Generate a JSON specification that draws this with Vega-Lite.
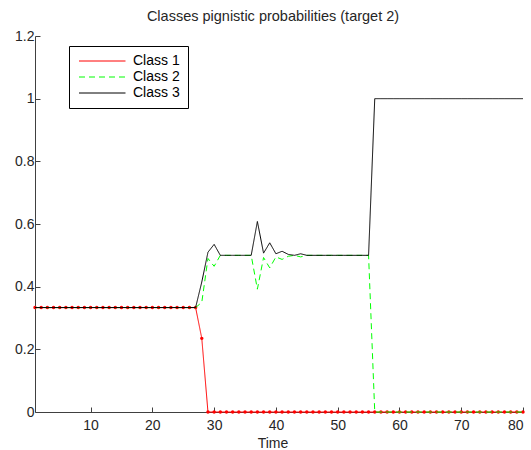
{
  "$schema": "https://vega.github.io/schema/vega-lite/v6.json",
  "width": 488,
  "height": 376,
  "autosize": {"type": "none"},
  "padding": {"left": 35, "top": 36, "right": 8, "bottom": 38},
  "title": {
    "text": "Classes pignistic probabilities (target 2)",
    "fontSize": 14.5,
    "fontWeight": "normal",
    "font": "Liberation Sans",
    "color": "#262626",
    "offset": 5,
    "dx": -6
  },
  "data": {
    "values": [
      {"t": 1, "Class 1": 0.3333, "Class 2": 0.3333, "Class 3": 0.3333},
      {"t": 2, "Class 1": 0.3333, "Class 2": 0.3333, "Class 3": 0.3333},
      {"t": 3, "Class 1": 0.3333, "Class 2": 0.3333, "Class 3": 0.3333},
      {"t": 4, "Class 1": 0.3333, "Class 2": 0.3333, "Class 3": 0.3333},
      {"t": 5, "Class 1": 0.3333, "Class 2": 0.3333, "Class 3": 0.3333},
      {"t": 6, "Class 1": 0.3333, "Class 2": 0.3333, "Class 3": 0.3333},
      {"t": 7, "Class 1": 0.3333, "Class 2": 0.3333, "Class 3": 0.3333},
      {"t": 8, "Class 1": 0.3333, "Class 2": 0.3333, "Class 3": 0.3333},
      {"t": 9, "Class 1": 0.3333, "Class 2": 0.3333, "Class 3": 0.3333},
      {"t": 10, "Class 1": 0.3333, "Class 2": 0.3333, "Class 3": 0.3333},
      {"t": 11, "Class 1": 0.3333, "Class 2": 0.3333, "Class 3": 0.3333},
      {"t": 12, "Class 1": 0.3333, "Class 2": 0.3333, "Class 3": 0.3333},
      {"t": 13, "Class 1": 0.3333, "Class 2": 0.3333, "Class 3": 0.3333},
      {"t": 14, "Class 1": 0.3333, "Class 2": 0.3333, "Class 3": 0.3333},
      {"t": 15, "Class 1": 0.3333, "Class 2": 0.3333, "Class 3": 0.3333},
      {"t": 16, "Class 1": 0.3333, "Class 2": 0.3333, "Class 3": 0.3333},
      {"t": 17, "Class 1": 0.3333, "Class 2": 0.3333, "Class 3": 0.3333},
      {"t": 18, "Class 1": 0.3333, "Class 2": 0.3333, "Class 3": 0.3333},
      {"t": 19, "Class 1": 0.3333, "Class 2": 0.3333, "Class 3": 0.3333},
      {"t": 20, "Class 1": 0.3333, "Class 2": 0.3333, "Class 3": 0.3333},
      {"t": 21, "Class 1": 0.3333, "Class 2": 0.3333, "Class 3": 0.3333},
      {"t": 22, "Class 1": 0.3333, "Class 2": 0.3333, "Class 3": 0.3333},
      {"t": 23, "Class 1": 0.3333, "Class 2": 0.3333, "Class 3": 0.3333},
      {"t": 24, "Class 1": 0.3333, "Class 2": 0.3333, "Class 3": 0.3333},
      {"t": 25, "Class 1": 0.3333, "Class 2": 0.3333, "Class 3": 0.3333},
      {"t": 26, "Class 1": 0.3333, "Class 2": 0.3333, "Class 3": 0.3333},
      {"t": 27, "Class 1": 0.3333, "Class 2": 0.3333, "Class 3": 0.3333},
      {"t": 28, "Class 1": 0.235, "Class 2": 0.35, "Class 3": 0.415},
      {"t": 29, "Class 1": 0, "Class 2": 0.49, "Class 3": 0.51},
      {"t": 30, "Class 1": 0, "Class 2": 0.465, "Class 3": 0.535},
      {"t": 31, "Class 1": 0, "Class 2": 0.5, "Class 3": 0.5},
      {"t": 32, "Class 1": 0, "Class 2": 0.5, "Class 3": 0.5},
      {"t": 33, "Class 1": 0, "Class 2": 0.5, "Class 3": 0.5},
      {"t": 34, "Class 1": 0, "Class 2": 0.5, "Class 3": 0.5},
      {"t": 35, "Class 1": 0, "Class 2": 0.5, "Class 3": 0.5},
      {"t": 36, "Class 1": 0, "Class 2": 0.5, "Class 3": 0.5},
      {"t": 37, "Class 1": 0, "Class 2": 0.392, "Class 3": 0.608},
      {"t": 38, "Class 1": 0, "Class 2": 0.493, "Class 3": 0.507},
      {"t": 39, "Class 1": 0, "Class 2": 0.46, "Class 3": 0.54},
      {"t": 40, "Class 1": 0, "Class 2": 0.495, "Class 3": 0.505},
      {"t": 41, "Class 1": 0, "Class 2": 0.487, "Class 3": 0.513},
      {"t": 42, "Class 1": 0, "Class 2": 0.497, "Class 3": 0.503},
      {"t": 43, "Class 1": 0, "Class 2": 0.5, "Class 3": 0.5},
      {"t": 44, "Class 1": 0, "Class 2": 0.495, "Class 3": 0.505},
      {"t": 45, "Class 1": 0, "Class 2": 0.5, "Class 3": 0.5},
      {"t": 46, "Class 1": 0, "Class 2": 0.5, "Class 3": 0.5},
      {"t": 47, "Class 1": 0, "Class 2": 0.5, "Class 3": 0.5},
      {"t": 48, "Class 1": 0, "Class 2": 0.5, "Class 3": 0.5},
      {"t": 49, "Class 1": 0, "Class 2": 0.5, "Class 3": 0.5},
      {"t": 50, "Class 1": 0, "Class 2": 0.5, "Class 3": 0.5},
      {"t": 51, "Class 1": 0, "Class 2": 0.5, "Class 3": 0.5},
      {"t": 52, "Class 1": 0, "Class 2": 0.5, "Class 3": 0.5},
      {"t": 53, "Class 1": 0, "Class 2": 0.5, "Class 3": 0.5},
      {"t": 54, "Class 1": 0, "Class 2": 0.5, "Class 3": 0.5},
      {"t": 55, "Class 1": 0, "Class 2": 0.5, "Class 3": 0.5},
      {"t": 56, "Class 1": 0, "Class 2": 0, "Class 3": 1},
      {"t": 57, "Class 1": 0, "Class 2": 0, "Class 3": 1},
      {"t": 58, "Class 1": 0, "Class 2": 0, "Class 3": 1},
      {"t": 59, "Class 1": 0, "Class 2": 0, "Class 3": 1},
      {"t": 60, "Class 1": 0, "Class 2": 0, "Class 3": 1},
      {"t": 61, "Class 1": 0, "Class 2": 0, "Class 3": 1},
      {"t": 62, "Class 1": 0, "Class 2": 0, "Class 3": 1},
      {"t": 63, "Class 1": 0, "Class 2": 0, "Class 3": 1},
      {"t": 64, "Class 1": 0, "Class 2": 0, "Class 3": 1},
      {"t": 65, "Class 1": 0, "Class 2": 0, "Class 3": 1},
      {"t": 66, "Class 1": 0, "Class 2": 0, "Class 3": 1},
      {"t": 67, "Class 1": 0, "Class 2": 0, "Class 3": 1},
      {"t": 68, "Class 1": 0, "Class 2": 0, "Class 3": 1},
      {"t": 69, "Class 1": 0, "Class 2": 0, "Class 3": 1},
      {"t": 70, "Class 1": 0, "Class 2": 0, "Class 3": 1},
      {"t": 71, "Class 1": 0, "Class 2": 0, "Class 3": 1},
      {"t": 72, "Class 1": 0, "Class 2": 0, "Class 3": 1},
      {"t": 73, "Class 1": 0, "Class 2": 0, "Class 3": 1},
      {"t": 74, "Class 1": 0, "Class 2": 0, "Class 3": 1},
      {"t": 75, "Class 1": 0, "Class 2": 0, "Class 3": 1},
      {"t": 76, "Class 1": 0, "Class 2": 0, "Class 3": 1},
      {"t": 77, "Class 1": 0, "Class 2": 0, "Class 3": 1},
      {"t": 78, "Class 1": 0, "Class 2": 0, "Class 3": 1},
      {"t": 79, "Class 1": 0, "Class 2": 0, "Class 3": 1},
      {"t": 80, "Class 1": 0, "Class 2": 0, "Class 3": 1}
    ]
  },
  "transform": [
    {"fold": ["Class 1", "Class 2", "Class 3"], "as": ["cls", "p"]}
  ],
  "encoding": {
    "x": {
      "field": "t",
      "type": "quantitative",
      "scale": {"domain": [1, 80], "nice": false, "zero": false},
      "axis": {
        "values": [10, 20, 30, 40, 50, 60, 70, 80],
        "title": "Time",
        "tickSize": -5,
        "labelPadding": 11,
        "titlePadding": 4,
        "titleX": 237.5
      }
    },
    "y": {
      "field": "p",
      "type": "quantitative",
      "scale": {"domain": [0, 1.2], "nice": false},
      "axis": {
        "values": [0, 0.2, 0.4, 0.6, 0.8, 1, 1.2],
        "format": "~g",
        "tickSize": -5,
        "labelPadding": 6,
        "title": null
      }
    },
    "color": {
      "field": "cls",
      "type": "nominal",
      "scale": {
        "domain": ["Class 1", "Class 2", "Class 3"],
        "range": ["#ff0000", "#00ff00", "#000000"]
      },
      "legend": {"title": null}
    },
    "strokeDash": {
      "field": "cls",
      "type": "nominal",
      "scale": {
        "domain": ["Class 1", "Class 2", "Class 3"],
        "range": [[1, 0], [6, 4], [1, 0]]
      },
      "legend": {"title": null}
    }
  },
  "layer": [
    {
      "transform": [{"filter": "datum.cls == 'Class 1'"}],
      "mark": {"type": "line", "strokeWidth": 1, "point": {"filled": true, "size": 12, "color": "#ff0000"}}
    },
    {
      "transform": [{"filter": "datum.cls != 'Class 1'"}],
      "mark": {"type": "line", "strokeWidth": 1}
    }
  ],
  "config": {
    "view": {"stroke": null},
    "axis": {
      "grid": false,
      "domainColor": "#404040",
      "tickColor": "#404040",
      "labelColor": "#262626",
      "labelFont": "Liberation Sans",
      "labelFontSize": 14,
      "titleFont": "Liberation Sans",
      "titleFontSize": 14,
      "titleFontWeight": "normal",
      "titleColor": "#262626"
    },
    "legend": {
      "orient": "none",
      "legendX": 34,
      "legendY": 10,
      "strokeColor": "#000000",
      "fillColor": "#ffffff",
      "padding": 8,
      "symbolType": "M-1,0H8.3",
      "symbolSize": 100,
      "symbolStrokeWidth": 1,
      "labelFontSize": 14,
      "labelFont": "Liberation Sans",
      "labelColor": "#000000",
      "labelOffset": 42,
      "rowPadding": 2
    }
  }
}
